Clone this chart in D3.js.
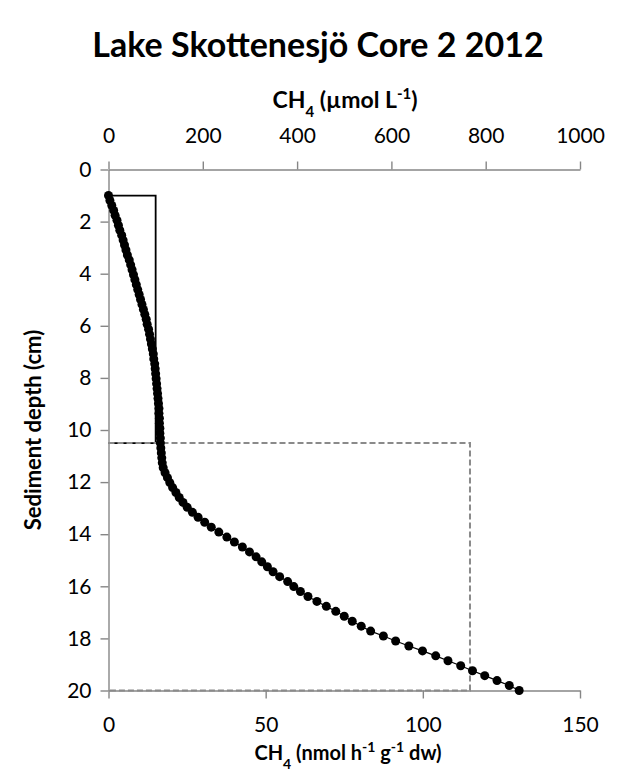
<!DOCTYPE html>
<html>
<head>
<meta charset="utf-8">
<script src="https://cdn.jsdelivr.net/npm/d3@7"></script>
<style>
  html, body { margin: 0; padding: 0; background: #fff; }
  text { font-family: "Lato", "Open Sans", sans-serif; fill: #000; }
</style>
</head>
<body>
<svg id="chart" width="620" height="778"></svg>
<script>
// ---- Data ----
const title = "Lake Skottenesjö Core 2 2012";
const depthTicks = [0, 2, 4, 6, 8, 10, 12, 14, 16, 18, 20];
const concTicks = [0, 200, 400, 600, 800, 1000];
const rateTicks = [0, 50, 100, 150];

// Sediment depth (cm) of modelled CH4 concentration points
const depths = [
  1.00, 1.19, 1.38, 1.57, 1.76, 1.95, 2.14, 2.33, 2.52, 2.71,
  2.90, 3.09, 3.28, 3.47, 3.66, 3.85, 4.04, 4.23, 4.42, 4.61,
  4.80, 4.99, 5.18, 5.37, 5.56, 5.75, 5.94, 6.13, 6.32, 6.51,
  6.70, 6.89, 7.08, 7.27, 7.46, 7.65, 7.84, 8.03, 8.22, 8.41,
  8.60, 8.79, 8.98, 9.17, 9.36, 9.55, 9.74, 9.93, 10.12, 10.31,
  10.50, 10.69, 10.88, 11.07, 11.26, 11.45, 11.64, 11.83, 12.02, 12.21,
  12.40, 12.59, 12.78, 12.97, 13.16, 13.35, 13.54, 13.73, 13.92, 14.11,
  14.30, 14.49, 14.68, 14.87, 15.06, 15.25, 15.44, 15.63, 15.82, 16.01,
  16.20, 16.39, 16.58, 16.77, 16.96, 17.15, 17.34, 17.53, 17.72, 17.91,
  18.10, 18.29, 18.48, 18.67, 18.86, 19.05, 19.24, 19.43, 19.62, 19.81,
  20.00
];
// CH4 concentration (µmol L-1), top axis
const ch4Conc = [
  0, 3, 7, 11, 14, 18, 21, 24, 28, 31,
  34, 37, 40, 44, 47, 50, 53, 56, 59, 62,
  65, 68, 71, 74, 77, 80, 82, 85, 87, 89,
  91, 93, 95, 96, 98, 99, 100, 101, 102, 103,
  104, 105, 106, 107, 107, 108, 108, 109, 109, 110,
  110, 111, 112, 113, 114, 116, 120, 125, 130, 136,
  143, 150, 158, 167, 178, 190, 204, 218, 234, 251,
  267, 284, 299, 313, 325, 337, 349, 363, 380, 393,
  407, 423, 442, 462, 482, 500, 517, 536, 556, 583,
  609, 637, 666, 694, 720, 747, 772, 798, 824, 850,
  871
];
// CH4 production rate zones (nmol h-1 g-1 dw), bottom axis
const zoneTop = [1, 10.5];
const zoneBottom = [10.5, 20];
const zoneRate = [15, 115];

// ---- Layout ----
const svg = d3.select("#chart");
const x0 = 108.5, x1 = 580, y0 = 169.5, y1 = 690.5;
const axisColor = "#868686";

const yScale = d3.scaleLinear().domain([0, 20]).range([y0, y1]);
const xConc = d3.scaleLinear().domain([0, 1000]).range([x0, x1]);
const xRate = d3.scaleLinear().domain([0, 150]).range([x0, x1]);

// Title
svg.append("text")
  .attr("x", 318).attr("y", 57)
  .attr("text-anchor", "middle")
  .style("font-size", "34px").style("font-weight", "bold")
  .text(title);

// Rate zone boxes
const boxLine = d3.line().x(d => xRate(d[0])).y(d => yScale(d[1]));
const zone1 = [[0, zoneTop[0]], [zoneRate[0], zoneTop[0]], [zoneRate[0], zoneBottom[0]], [0, zoneBottom[0]]];
const zone2 = [[0, zoneTop[1]], [zoneRate[1], zoneTop[1]], [zoneRate[1], zoneBottom[1]], [0, zoneBottom[1]]];

svg.append("path").attr("d", boxLine(zone1))
  .attr("fill", "none").attr("stroke", "#000").attr("stroke-width", 1.8);

// Axes
function styleAxis(g) {
  g.selectAll(".domain").attr("stroke", axisColor).attr("stroke-width", 1.4);
  g.selectAll(".tick line").attr("stroke", axisColor).attr("stroke-width", 1.4);
  g.selectAll(".tick text").style("font-size", "21px")
    .style("font-family", "Lato, 'Open Sans', sans-serif").attr("fill", "#000");
}
const fmt = d3.format("d");

const gLeft = svg.append("g").attr("transform", `translate(${x0},0)`)
  .call(d3.axisLeft(yScale).tickValues(depthTicks).tickFormat(fmt).tickSize(8).tickSizeOuter(0).tickPadding(9));
styleAxis(gLeft);

const gTop = svg.append("g").attr("transform", `translate(0,${y0})`)
  .call(d3.axisTop(xConc).tickValues(concTicks).tickFormat(fmt).tickSize(8).tickSizeOuter(0).tickPadding(19));
styleAxis(gTop);

const gBottom = svg.append("g").attr("transform", `translate(0,${y1})`)
  .call(d3.axisBottom(xRate).tickValues(rateTicks).tickFormat(fmt).tickSize(8).tickSizeOuter(0).tickPadding(19));
styleAxis(gBottom);

svg.append("path").attr("d", boxLine(zone2))
  .attr("fill", "none").attr("stroke", "#8a8a8a").attr("stroke-width", 2)
  .attr("stroke-dasharray", "6,3");

// Concentration profile
const pts = depths.map((d, i) => [ch4Conc[i], d]);
const profLine = d3.line().x(d => xConc(d[0])).y(d => yScale(d[1]));
svg.append("path").attr("d", profLine(pts))
  .attr("fill", "none").attr("stroke", "#000").attr("stroke-width", 1.2);
svg.append("g").selectAll("circle").data(pts).join("circle")
  .attr("cx", d => xConc(d[0])).attr("cy", d => yScale(d[1]))
  .attr("r", 4.5).attr("fill", "#000");

// Axis titles
function chemTitle(sel, parts, small) {
  parts.forEach(p => {
    const t = sel.append("tspan").text(p.t);
    if (p.sub) t.attr("baseline-shift", "sub").style("font-size", small);
    if (p.sup) t.attr("baseline-shift", "super").style("font-size", small);
  });
}
const topTitle = svg.append("text")
  .attr("x", 345).attr("y", 108)
  .attr("text-anchor", "middle")
  .style("font-size", "23px").style("font-weight", "bold");
chemTitle(topTitle, [{t: "CH"}, {t: "4", sub: true}, {t: " (µmol L"}, {t: "-1", sup: true}, {t: ")"}], "15px");

const bottomTitle = svg.append("text")
  .attr("x", 348).attr("y", 760)
  .attr("text-anchor", "middle")
  .style("font-size", "20px").style("font-weight", "bold");
chemTitle(bottomTitle, [{t: "CH"}, {t: "4", sub: true}, {t: " (nmol h"}, {t: "-1", sup: true}, {t: " g"}, {t: "-1", sup: true}, {t: " dw)"}], "14px");

svg.append("text")
  .attr("transform", `translate(41,${(y0 + y1) / 2}) rotate(-90)`)
  .attr("text-anchor", "middle")
  .style("font-size", "22px").style("font-weight", "bold")
  .text("Sediment depth (cm)");
</script>
</body>
</html>
